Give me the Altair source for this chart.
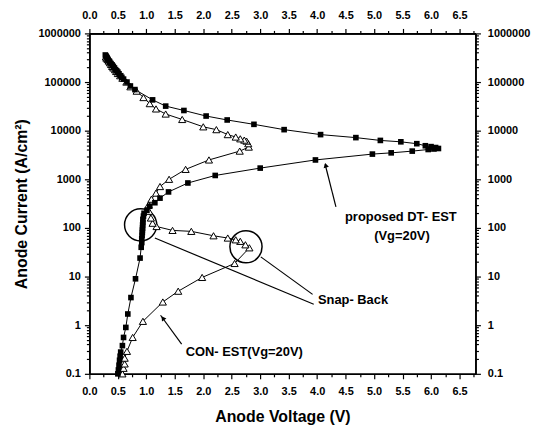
import altair as alt
import pandas as pd

# proposed DT-EST (filled squares), in drawing order
dt_x = [0.50, 0.51, 0.52, 0.53, 0.54, 0.55, 0.58, 0.60, 0.64, 0.675, 0.73, 0.81, 0.89,
        0.91, 0.92, 0.92, 0.925, 0.93, 0.93, 0.935, 0.935, 0.94, 0.94, 0.95, 0.96,
        1.01, 1.06, 1.15, 1.24, 1.39, 1.73, 2.21, 3.00, 3.97, 4.97, 5.30, 5.67, 5.95, 6.05, 6.13,
        6.08, 6.00, 5.90, 5.75, 5.47, 5.11, 4.68, 4.06, 3.42, 2.89, 2.42, 2.05, 1.66, 1.34, 1.11,
        0.80, 0.72, 0.66, 0.60, 0.57, 0.55, 0.52, 0.50, 0.48, 0.46, 0.44, 0.42, 0.40, 0.38,
        0.36, 0.35, 0.33, 0.32, 0.31, 0.30, 0.29, 0.28]
dt_y = [0.10, 0.12, 0.15, 0.19, 0.23, 0.28, 0.38, 0.56, 0.9, 1.7, 3.7, 9, 24,
        40, 50, 60, 70, 80, 90, 100, 115, 130, 150, 175, 200,
        230, 280, 330, 410, 550, 840, 1200, 1700, 2500, 3300, 3500, 3800, 4100, 4200, 4300,
        4500, 4700, 4900, 5400, 5900, 6300, 7200, 8300, 10500, 13500, 16600, 20000, 26000, 32000, 43000,
        70000, 83000, 100000, 115000, 125000, 135000, 148000, 160000, 170000, 180000, 195000,
        210000, 225000, 240000, 255000, 270000, 285000, 300000, 315000, 330000, 345000, 360000]

# CON-EST (open triangles), in drawing order
con_x = [0.58, 0.60, 0.62, 0.62, 0.66, 0.76, 0.94, 1.29, 1.56, 1.98, 2.55, 2.81,
         2.74, 2.65, 2.57, 2.43, 2.18, 1.79, 1.46, 1.18, 1.11, 1.08, 1.05, 1.04,
         1.09, 1.17, 1.24, 1.40, 1.69, 2.10, 2.64, 2.80, 2.79, 2.76, 2.72, 2.65, 2.57, 2.43,
         2.23, 2.00, 1.63, 1.34, 1.17, 1.06, 0.95, 0.83, 0.72, 0.65, 0.58, 0.54, 0.50, 0.47,
         0.45, 0.42, 0.40, 0.38, 0.36, 0.34, 0.32, 0.30, 0.29]
con_y = [0.10, 0.13, 0.16, 0.21, 0.29, 0.56, 1.2, 3.0, 5.0, 9.6, 18.6, 39,
         45, 53, 57, 62, 69, 85, 89, 107, 125, 160, 220, 300,
         390, 520, 710, 1000, 1600, 2500, 3800, 4600, 5400, 6100, 6400, 6800, 7400, 8300,
         10500, 12000, 17000, 22000, 28000, 36000, 48000, 65000, 80000, 100000, 120000, 135000,
         150000, 165000, 180000, 195000, 210000, 230000, 250000, 270000, 290000, 310000, 330000]

x_major = [0.0, 0.5, 1.0, 1.5, 2.0, 2.5, 3.0, 3.5, 4.0, 4.5, 5.0, 5.5, 6.0, 6.5]
x_minor = [0.25, 0.75, 1.25, 1.75, 2.25, 2.75, 3.25, 3.75, 4.25, 4.75, 5.25, 5.75, 6.25, 6.75]
y_major = [0.1, 1, 10, 100, 1000, 10000, 100000, 1000000]
y_minor = [k * d for d in [0.1, 1, 10, 100, 1000, 10000, 100000] for k in range(2, 10)]

# annotations
circ_x = [0.90, 2.75]
circ_y = [116, 41]
rule_x = [3.01, 1.15, 4.33, 1.62]
rule_y = [25.4, 62, 270, 0.41]
rule_x2 = [3.92, 3.94, 4.14, 1.25]
rule_y2 = [4.3, 2.7, 2040, 1.6]
head_x = [4.15, 1.29]
head_y = [1950, 1.4]
head_angle = [346, 324]
text_x = [4.63, 5.47, 5.49, 2.72]
text_y = [3.3, 171, 67, 0.278]
text_s = ["Snap- Back", "proposed DT- EST", "(Vg=20V)", "CON- EST(Vg=20V)"]

dt = pd.DataFrame({"x": dt_x, "y": dt_y, "i": range(len(dt_x))})
con = pd.DataFrame({"x": con_x, "y": con_y, "i": range(len(con_x))})
circ = pd.DataFrame({"x": circ_x, "y": circ_y})
rules = pd.DataFrame({"x": rule_x, "y": rule_y, "x2": rule_x2, "y2": rule_y2})
heads = pd.DataFrame({"x": head_x, "y": head_y, "a": head_angle})
texts = pd.DataFrame({"x": text_x, "y": text_y, "t": text_s})

xs = alt.Scale(domain=[0, 6.78], nice=False, zero=False)
ys = alt.Scale(type="log", domain=[0.1, 1000000], nice=False)

FONT = "Liberation Sans"
ylab = "datum.value < 1 ? '0.1' : format(datum.value, 'd')"


def ax_layer(xaxis, yaxis):
    return alt.Chart(dt).mark_point(opacity=0).encode(
        x=alt.X("x:Q", scale=xs, axis=xaxis),
        y=alt.Y("y:Q", scale=ys, axis=yaxis),
    )


main_axes = ax_layer(
    alt.Axis(orient="bottom", values=x_major, format=".1f", tickSize=5, labelPadding=7,
             title="Anode Voltage (V)", titlePadding=12),
    alt.Axis(orient="left", values=y_major, labelExpr=ylab, tickSize=5, labelPadding=4,
             title="Anode Current (A/cm²)", titlePadding=9),
)
minor_axes = ax_layer(
    alt.Axis(orient="bottom", values=x_minor, labels=False, tickSize=3, title=None),
    alt.Axis(orient="left", values=y_minor, labels=False, tickSize=3, title=None),
)
top_axes = ax_layer(
    alt.Axis(orient="top", values=x_major, format=".1f", tickSize=5, labelPadding=8, title=None),
    alt.Axis(orient="right", values=y_major, labelExpr=ylab, tickSize=5, labelPadding=7, title=None),
)
top_minor = ax_layer(
    alt.Axis(orient="top", values=x_minor, labels=False, tickSize=3, title=None),
    alt.Axis(orient="right", values=y_minor, labels=False, tickSize=3, title=None),
)

enc = dict(
    x=alt.X("x:Q", scale=xs, axis=None),
    y=alt.Y("y:Q", scale=ys, axis=None),
)

dt_line = alt.Chart(dt).mark_line(color="black", strokeWidth=1).encode(order="i:Q", **enc)
dt_pts = alt.Chart(dt).mark_point(shape="square", filled=True, color="black", size=32, opacity=1).encode(**enc)
con_line = alt.Chart(con).mark_line(color="black", strokeWidth=1).encode(order="i:Q", **enc)
con_pts = alt.Chart(con).mark_point(shape="triangle-up", filled=True, fill="white", stroke="black",
                                    strokeWidth=1, size=52, opacity=1).encode(**enc)

circles = alt.Chart(circ).mark_point(shape="circle", filled=False, color="black", strokeWidth=1.5,
                                     size=1050, opacity=1).encode(**enc)
rule_l = alt.Chart(rules).mark_rule(color="black", strokeWidth=1.2).encode(
    x2="x2:Q", y2="y2:Q", **enc)
head_l = alt.Chart(heads).mark_point(shape="triangle-up", filled=True, color="black", size=30,
                                     opacity=1).encode(angle=alt.Angle("a:Q", scale=None), **enc)
text_l = alt.Chart(texts).mark_text(font=FONT, fontSize=13, fontWeight="bold", color="black",
                                    align="center", baseline="middle").encode(text="t:N", **enc)

chart = alt.layer(
    main_axes, minor_axes, top_axes, top_minor,
    dt_line, con_line, rule_l, circles, con_pts, dt_pts, head_l, text_l,
).resolve_axis(x="independent", y="independent").properties(
    width=389, height=343,
    padding={"left": 5, "top": 0, "right": 5, "bottom": 5},
).configure_view(stroke=None).configure_axis(
    grid=False,
    domainColor="black", domainWidth=1.6,
    tickColor="black", tickWidth=1.2,
    labelFont=FONT, labelFontSize=11, labelFontWeight="bold", labelColor="black",
    labelFlush=False, labelOverlap=False,
    titleFont=FONT, titleFontSize=16, titleFontWeight="bold", titleColor="black",
)

chart.save("out.html", embed_options={"renderer": "svg", "actions": False})
